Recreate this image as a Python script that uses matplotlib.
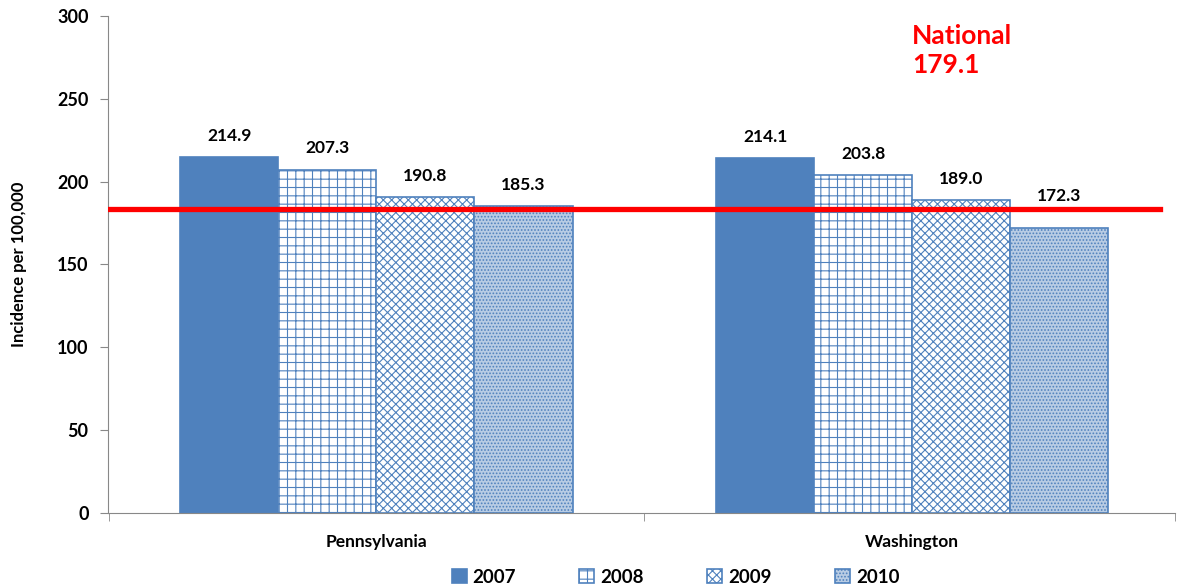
import numpy as np
import matplotlib.pyplot as plt

plt.rcParams['font.family'] = ['Lato', 'DejaVu Sans']
plt.rcParams['hatch.linewidth'] = 0.8

regions = ['Pennsylvania', 'Washington']
years = ['2007', '2008', '2009', '2010']
incidence = {
    '2007': [214.9, 214.1],
    '2008': [207.3, 203.8],
    '2009': [190.8, 189.0],
    '2010': [185.3, 172.3],
}
national_value = 179.1
national_line_y = 183.5  # where the red line sits in the picture

blue = '#4f81bd'
styles = {
    '2007': dict(facecolor=blue, hatch=None),
    '2008': dict(facecolor='white', hatch='++'),
    '2009': dict(facecolor='white', hatch='xxxx'),
    '2010': dict(facecolor='#b8cce4', hatch='.....'),
}

fig = plt.figure(figsize=(11.77, 5.88), dpi=100)
ax = fig.add_axes([0.0918, 0.1276, 0.9062, 0.8452])

x = np.arange(len(regions))
w = 0.183
for i, yr in enumerate(years):
    pos = x + (i - 1.5) * w
    bars = ax.bar(pos, incidence[yr], w, edgecolor=blue, linewidth=1.2,
                  label=yr, **styles[yr])
    for b, v in zip(bars, incidence[yr]):
        # label sits above the red line when the bar is below it
        off = 8 if v > national_line_y else 14
        ax.text(b.get_x() + b.get_width() / 2, v + off, f'{v:.1f}',
                ha='center', va='bottom', fontsize=12.5, fontweight='bold')

ax.axhline(national_line_y, xmin=0, xmax=0.986, color='#ff0000', lw=3.8, zorder=5)
ax.text(1.0, 279, f'National\n{national_value}', color='#ff0000', fontsize=19,
        fontweight='bold', ha='left', va='center', linespacing=1.25)

ax.set_xlim(-0.501, 1.49)
ax.set_ylim(0, 300)
ax.set_yticks(np.arange(0, 301, 50))
ax.set_xticks(x)
ax.set_xticklabels(regions, fontsize=12.5, fontweight='bold')
ax.tick_params(axis='x', length=0, pad=15)
ax.set_xticks([-0.5, 0.5, 1.49], minor=True)
ax.tick_params(axis='x', which='minor', length=6, color='#888888')
ax.tick_params(axis='y', length=6, color='#888888', labelsize=13, pad=8)
for lab in ax.get_yticklabels():
    lab.set_fontweight('bold')
ax.set_ylabel('Incidence per 100,000', fontsize=12, fontweight='bold', labelpad=22)

for s in ['top', 'right']:
    ax.spines[s].set_visible(False)
for s in ['left', 'bottom']:
    ax.spines[s].set_color('#888888')

ax.legend(loc='center', bbox_to_anchor=(0.532, -0.129), ncol=4, frameon=False,
          prop={'weight': 'bold', 'size': 13.5}, handlelength=0.8,
          handleheight=0.8, columnspacing=3.4, handletextpad=0.3)

fig.savefig('out.png', dpi=100)
